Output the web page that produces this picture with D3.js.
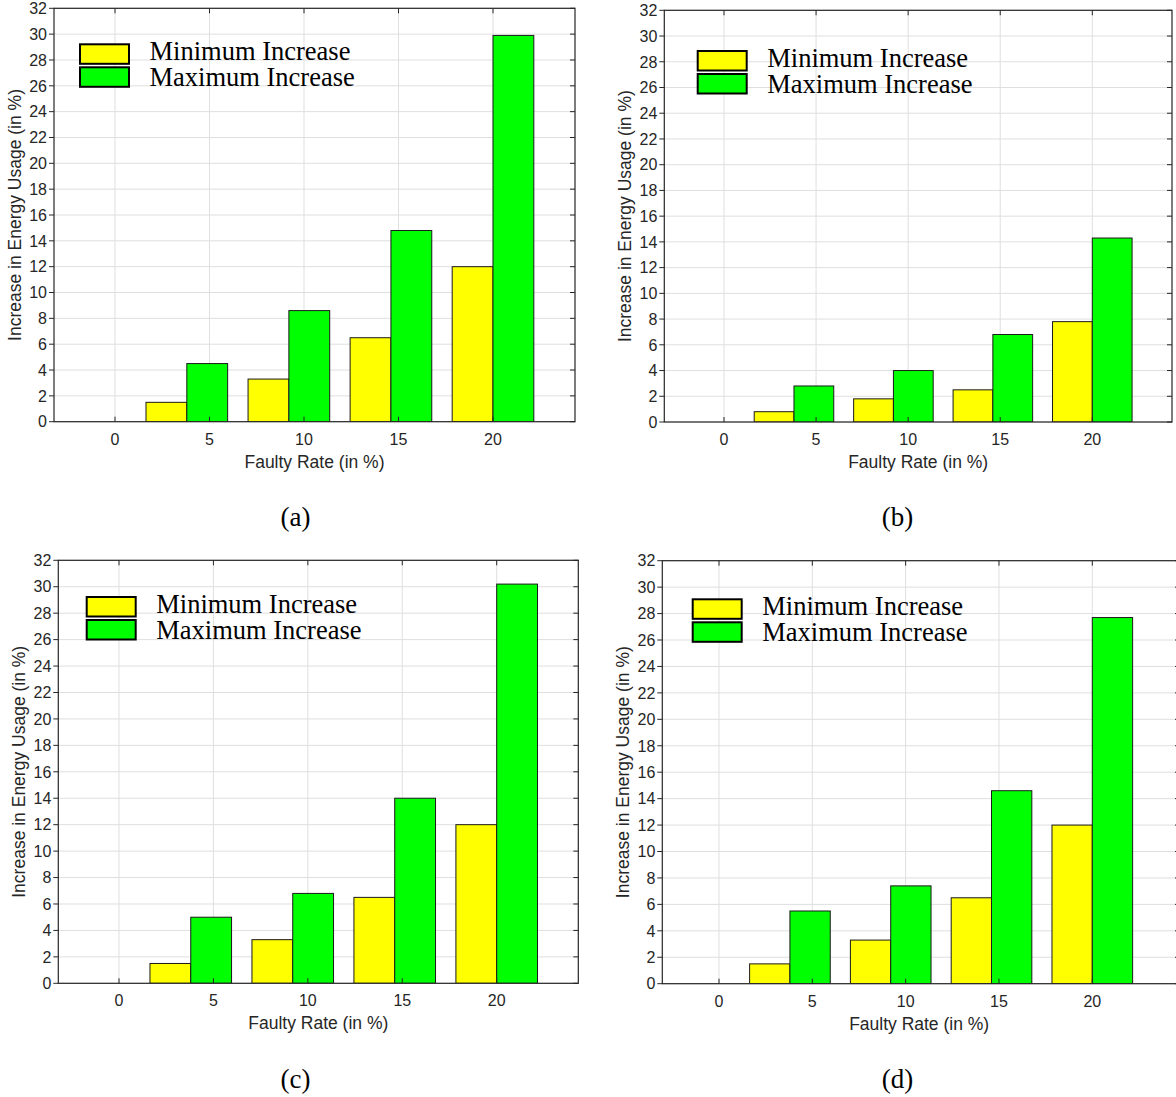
<!DOCTYPE html>
<html>
<head>
<meta charset="utf-8">
<script src="https://cdn.jsdelivr.net/npm/d3@7"></script>
<style>
  html, body { margin: 0; padding: 0; background: #ffffff; }
  svg { display: block; }
</style>
</head>
<body>
<svg id="chart" width="1176" height="1097"></svg>
<script>
// ---------------- data ----------------
const categories = [0, 5, 10, 15, 20];            // Faulty Rate (in %)
const xTickValues = [0, 5, 10, 15, 20];
const yTickValues = [0, 2, 4, 6, 8, 10, 12, 14, 16, 18, 20, 22, 24, 26, 28, 30, 32];
const seriesNames = ["Minimum Increase", "Maximum Increase"];
const seriesColors = ["#ffff00", "#00ff00"];

const minA = [0, 1.5, 3.3, 6.5, 12.0];
const maxA = [0, 4.5, 8.6, 14.8, 29.9];
const minB = [0, 0.8, 1.8, 2.5, 7.8];
const maxB = [0, 2.8, 4.0, 6.8, 14.3];
const minC = [0, 1.5, 3.3, 6.5, 12.0];
const maxC = [0, 5.0, 6.8, 14.0, 30.2];
const minD = [0, 1.5, 3.3, 6.5, 12.0];
const maxD = [0, 5.5, 7.4, 14.6, 27.7];

const panelLabels = ["(a)", "(b)", "(c)", "(d)"];
const xLabel = "Faulty Rate (in %)";
const yLabel = "Increase in Energy Usage (in %)";

// ---------------- layout ----------------
const panels = [
  { min: minA, max: maxA, label: panelLabels[0],
    left: 54, right: 575, top: 8.3, bottom: 421.7, x0: 115, x20: 493,
    legX: 80, legY: 44.3, capX: 295.5, capY: 526 },
  { min: minB, max: maxB, label: panelLabels[1],
    left: 664.3, right: 1172, top: 10.3, bottom: 422, x0: 724, x20: 1092.3,
    legX: 697.7, legY: 51, capX: 897.5, capY: 526 },
  { min: minC, max: maxC, label: panelLabels[2],
    left: 58.3, right: 578.3, top: 560.3, bottom: 983.3, x0: 119, x20: 496.7,
    legX: 86.7, legY: 597, capX: 295.5, capY: 1088 },
  { min: minD, max: maxD, label: panelLabels[3],
    left: 662.3, right: 1180, top: 560.7, bottom: 983.7, x0: 719, x20: 1092.3,
    legX: 692.7, legY: 599.3, capX: 897.5, capY: 1088 }
];

const svg = d3.select("#chart");
svg.append("rect").attr("width", 1176).attr("height", 1097).attr("fill", "#ffffff");

const axisColor = "#262626";
const gridColor = "#dfdfdf";
const sansFont = "'Liberation Sans', Arial, Helvetica, sans-serif";
const serifFont = "'Liberation Serif', 'Times New Roman', Times, serif";

panels.forEach((p, pi) => {
  const g = svg.append("g");

  const x = d3.scaleLinear().domain([0, 20]).range([p.x0, p.x20]);
  const y = d3.scaleLinear().domain([0, 32]).range([p.bottom, p.top]);

  // grouped bar positions (groups spaced 5.4 units, width 80% of spacing)
  const xGroup = d3.scaleBand().domain(categories)
      .range([x(-4.3), x(22.7)]).paddingInner(0.2).paddingOuter(0.1);
  const xSub = d3.scaleBand().domain([0, 1]).range([0, xGroup.bandwidth()]);

  const clipId = "clip" + pi;
  g.append("clipPath").attr("id", clipId).append("rect")
    .attr("x", p.left).attr("y", p.top)
    .attr("width", Math.min(p.right, 1176) - p.left).attr("height", p.bottom - p.top);

  // grid
  g.append("g").selectAll("line").data(yTickValues).join("line")
    .attr("x1", p.left).attr("x2", p.right)
    .attr("y1", d => y(d)).attr("y2", d => y(d))
    .attr("stroke", gridColor).attr("stroke-width", 1);
  g.append("g").selectAll("line").data(xTickValues).join("line")
    .attr("x1", d => x(d)).attr("x2", d => x(d))
    .attr("y1", p.top).attr("y2", p.bottom)
    .attr("stroke", gridColor).attr("stroke-width", 1);

  // bars
  const rows = categories.map((c, i) => ({ cat: c, vals: [p.min[i], p.max[i]] }));
  const bars = g.append("g").attr("clip-path", `url(#${clipId})`);
  rows.forEach(r => {
    r.vals.forEach((v, si) => {
      if (v <= 0) return;
      bars.append("rect")
        .attr("x", xGroup(r.cat) + xSub(si))
        .attr("width", xSub.bandwidth())
        .attr("y", y(v))
        .attr("height", y(0) - y(v))
        .attr("fill", seriesColors[si])
        .attr("stroke", "#1a1a1a")
        .attr("stroke-width", 1);
    });
  });

  // frame
  g.append("rect")
    .attr("x", p.left).attr("y", p.top)
    .attr("width", p.right - p.left).attr("height", p.bottom - p.top)
    .attr("fill", "none").attr("stroke", axisColor).attr("stroke-width", 1.2);

  // ticks: left outward, right inward, top/bottom inward
  const tl = 5;
  g.append("g").selectAll("line").data(yTickValues).join("line")
    .attr("x1", p.left - tl).attr("x2", p.left)
    .attr("y1", d => y(d)).attr("y2", d => y(d))
    .attr("stroke", axisColor).attr("stroke-width", 1);
  g.append("g").selectAll("line").data(yTickValues).join("line")
    .attr("x1", p.right - tl).attr("x2", p.right)
    .attr("y1", d => y(d)).attr("y2", d => y(d))
    .attr("stroke", axisColor).attr("stroke-width", 1);
  g.append("g").selectAll("line").data(xTickValues).join("line")
    .attr("x1", d => x(d)).attr("x2", d => x(d))
    .attr("y1", p.bottom).attr("y2", p.bottom - tl)
    .attr("stroke", axisColor).attr("stroke-width", 1);
  g.append("g").selectAll("line").data(xTickValues).join("line")
    .attr("x1", d => x(d)).attr("x2", d => x(d))
    .attr("y1", p.top).attr("y2", p.top + tl)
    .attr("stroke", axisColor).attr("stroke-width", 1);

  // tick labels
  g.append("g").selectAll("text").data(yTickValues).join("text")
    .attr("x", p.left - 7).attr("y", d => y(d))
    .attr("dy", "0.36em")
    .attr("text-anchor", "end")
    .attr("font-family", sansFont).attr("font-size", 16)
    .attr("fill", axisColor)
    .text(d => d);
  g.append("g").selectAll("text").data(xTickValues).join("text")
    .attr("x", d => x(d)).attr("y", p.bottom + 23)
    .attr("text-anchor", "middle")
    .attr("font-family", sansFont).attr("font-size", 16)
    .attr("fill", axisColor)
    .text(d => d);

  // axis labels
  g.append("text")
    .attr("x", (p.left + p.right) / 2 - (p.right > 1176 ? 2 : 0))
    .attr("y", p.bottom + 46)
    .attr("text-anchor", "middle")
    .attr("font-family", sansFont).attr("font-size", 17.5)
    .attr("fill", axisColor)
    .text(xLabel);
  g.append("text")
    .attr("transform", `translate(${p.left - 39},${(p.top + p.bottom) / 2}) rotate(-90)`)
    .attr("dy", "0.35em")
    .attr("text-anchor", "middle")
    .attr("font-family", sansFont).attr("font-size", 17.5)
    .attr("fill", axisColor)
    .text(yLabel);

  // legend
  const leg = g.append("g").attr("transform", `translate(${p.legX},${p.legY})`);
  seriesNames.forEach((name, si) => {
    leg.append("rect")
      .attr("x", 0).attr("y", si * 23)
      .attr("width", 49).attr("height", 19.5)
      .attr("fill", seriesColors[si])
      .attr("stroke", "#000").attr("stroke-width", 2);
    leg.append("text")
      .attr("x", 69.5).attr("y", si * 26 + 16)
      .attr("font-family", serifFont).attr("font-size", 26.5)
      .attr("fill", "#000")
      .text(name);
  });

  // subplot caption
  svg.append("text")
    .attr("x", p.capX).attr("y", p.capY)
    .attr("text-anchor", "middle")
    .attr("font-family", serifFont).attr("font-size", 27)
    .attr("fill", "#000")
    .text(p.label);
});
</script>
</body>
</html>
